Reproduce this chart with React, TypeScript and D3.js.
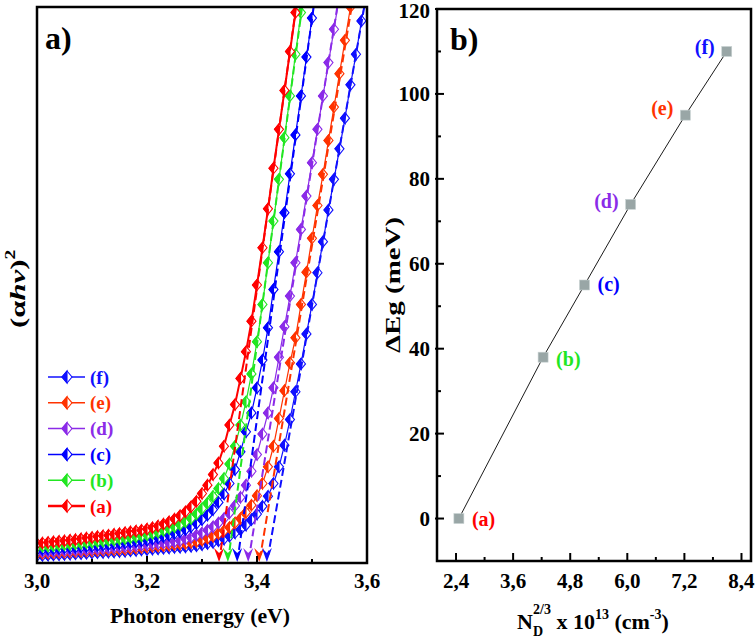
import React from 'react';
import * as d3 from 'd3';

// ---------- Panel a) data ----------
const energies = [
  3.00, 3.01, 3.02, 3.03, 3.04, 3.05, 3.06, 3.07, 3.08, 3.09,
  3.10, 3.11, 3.12, 3.13, 3.14, 3.15, 3.16, 3.17, 3.18, 3.19,
  3.20, 3.21, 3.22, 3.23, 3.24, 3.25, 3.26, 3.27, 3.28, 3.29,
  3.30, 3.31, 3.32, 3.33, 3.34, 3.35, 3.36, 3.37, 3.38, 3.39,
  3.40, 3.41, 3.42, 3.43, 3.44, 3.45, 3.46, 3.47, 3.48, 3.49,
  3.50, 3.51, 3.52, 3.53, 3.54, 3.55, 3.56, 3.57, 3.58, 3.59,
  3.60,
];

const seriesA = [3.5, 3.6, 3.7, 3.8, 3.9, 4.0, 4.1, 4.2, 4.35, 4.5, 4.6, 4.75, 4.9, 5.0, 5.15, 5.3, 5.45, 5.6, 5.75, 5.9, 6.1, 6.35, 6.65, 7.0, 7.4, 7.9, 8.5, 9.2, 10.1, 11.1, 12.5, 14.0, 15.9, 18.0, 21.0, 24.8, 28.5, 33.2, 38.0, 43.5, 50.0, 56.7, 63.7, 71.0, 78.0, 85.0, 92.0, 99.0, 106.0];
const seriesB = [2.9, 3.0, 3.05, 3.1, 3.2, 3.3, 3.35, 3.45, 3.55, 3.65, 3.75, 3.85, 3.95, 4.05, 4.15, 4.3, 4.4, 4.55, 4.7, 4.85, 5.05, 5.3, 5.55, 5.85, 6.2, 6.5, 6.9, 7.4, 8.0, 8.8, 9.8, 10.8, 12.0, 13.4, 15.2, 17.8, 21.0, 24.8, 29.0, 34.0, 39.8, 46.5, 54.0, 61.5, 69.0, 76.5, 84.0, 91.5, 99.0, 106.0];
const seriesC = [2.4, 2.45, 2.5, 2.55, 2.6, 2.7, 2.75, 2.8, 2.9, 2.95, 3.0, 3.1, 3.2, 3.3, 3.4, 3.5, 3.6, 3.7, 3.85, 3.95, 4.1, 4.3, 4.5, 4.75, 5.0, 5.3, 5.6, 6.0, 6.5, 7.1, 7.8, 8.6, 9.6, 10.9, 12.4, 14.3, 16.8, 20.0, 23.6, 27.0, 31.5, 36.5, 42.3, 49.2, 56.0, 63.0, 70.0, 77.0, 84.0, 91.0, 98.0, 105.0];
const seriesD = [2.0, 2.05, 2.1, 2.15, 2.2, 2.25, 2.3, 2.35, 2.4, 2.45, 2.5, 2.55, 2.6, 2.7, 2.75, 2.85, 2.9, 3.0, 3.1, 3.2, 3.3, 3.4, 3.5, 3.6, 3.65, 3.8, 4.0, 4.3, 4.6, 5.0, 5.4, 5.9, 6.5, 7.2, 8.0, 9.0, 10.3, 11.8, 14.0, 16.5, 19.5, 23.2, 27.0, 31.5, 37.0, 42.5, 48.0, 54.0, 60.0, 66.0, 72.0, 78.0, 84.0, 90.0, 96.0, 102.0];
const seriesE = [1.7, 1.75, 1.8, 1.85, 1.9, 1.95, 2.0, 2.05, 2.1, 2.15, 2.2, 2.25, 2.3, 2.35, 2.4, 2.45, 2.5, 2.6, 2.7, 2.8, 2.9, 3.0, 3.05, 3.1, 3.2, 3.3, 3.4, 3.5, 3.7, 3.85, 4.1, 4.45, 4.8, 5.3, 5.8, 6.4, 7.2, 8.0, 9.1, 10.4, 12.1, 14.3, 17.3, 21.0, 26.0, 31.0, 36.0, 40.5, 46.5, 52.3, 58.4, 64.3, 69.9, 76.0, 82.0, 88.0, 94.0, 100.0, 106.0];
const seriesF = [1.3, 1.35, 1.4, 1.45, 1.5, 1.55, 1.6, 1.65, 1.7, 1.75, 1.8, 1.85, 1.9, 1.95, 2.0, 2.05, 2.1, 2.2, 2.25, 2.35, 2.4, 2.5, 2.55, 2.65, 2.7, 2.8, 2.85, 2.9, 3.0, 3.1, 3.3, 3.5, 3.7, 4.0, 4.3, 4.8, 5.4, 6.0, 6.8, 7.8, 8.8, 10.2, 12.0, 14.3, 17.3, 21.2, 25.8, 30.8, 35.8, 41.2, 46.5, 52.2, 57.8, 63.5, 69.0, 74.5, 80.0, 86.0, 91.5, 97.5, 103.0];

const seriesNames = ['(a)', '(b)', '(c)', '(d)', '(e)', '(f)'];
const seriesValues = [seriesA, seriesB, seriesC, seriesD, seriesE, seriesF];
const seriesColors = ['#ff0000', '#22e622', '#0000ff', '#8b2be8', '#ff3300', '#1010ff'];
const seriesWidths = [2, 1.2, 1.2, 1.2, 1.2, 1.2];

// extrapolated band gap (arrow) and where the tangent leaves the top of the frame
const gapEnergies = [3.331, 3.347, 3.364, 3.384, 3.404, 3.418];
const tangentTopEnergies = [3.471, 3.482, 3.503, 3.546, 3.572, 3.595];

const xTicksA = [3.0, 3.2, 3.4, 3.6];
const xMinorA = [3.1, 3.3, 3.5];

// ---------- Panel b) data ----------
const densityX = [2.46, 4.23, 5.10, 6.07, 7.22, 8.09];
const deltaEg = [0, 38, 55, 74, 95, 110];
const pointLabels = ['(a)', '(b)', '(c)', '(d)', '(e)', '(f)'];
const pointLabelColors = ['#ff0000', '#22e622', '#0000ff', '#8b2be8', '#ff3300', '#1010ff'];
const xTicksB = [2.4, 3.6, 4.8, 6.0, 7.2, 8.4];
const xMinorB = [3.0, 4.2, 5.4, 6.6, 7.8];
const yTicksB = [0, 20, 40, 60, 80, 100, 120];
const yMinorB = [10, 30, 50, 70, 90, 110];

const FONT = 'Liberation Serif, DejaVu Serif, serif';
const comma = (v: number) => d3.format('.1f')(v).replace('.', ',');

// layout
const A = { left: 37, right: 367, top: 7, bottom: 563 };
const B = { left: 437, right: 751, top: 9, bottom: 561 };

function Diamond({ x, y, color, rx = 4.5, ry = 5.5 }: { x: number; y: number; color: string; rx?: number; ry?: number }) {
  return (
    <g transform={`translate(${x},${y})`}>
      <path d={`M0,${-ry} L${rx},0 L0,${ry} L${-rx},0 Z`} fill="#fff" stroke={color} strokeWidth={1.1} />
      <path d={`M0,${-ry} L0,${ry} L${-rx},0 Z`} fill={color} stroke={color} strokeWidth={1.1} />
    </g>
  );
}

export default function App() {
  const xA = d3.scaleLinear().domain([3.0, 3.6]).range([A.left, A.right]);
  const yA = d3.scaleLinear().domain([0, 100]).range([A.bottom, A.top]);
  const xB = d3.scaleLinear().domain([2.0, 8.6]).range([B.left, B.right]);
  const yB = d3.scaleLinear().domain([-10, 120]).range([B.bottom, B.top]);

  const lineA = d3
    .line<[number, number]>()
    .x((d) => xA(d[0]))
    .y((d) => yA(d[1]));

  const lineB = d3
    .line<[number, number]>()
    .x((d) => xB(d[0]))
    .y((d) => yB(d[1]));

  const drawOrder = [5, 4, 3, 2, 1, 0];
  const legendOrder = [5, 4, 3, 2, 1, 0];
  const legendY0 = 377;
  const legendDy = 25.8;

  const labelSide = ['right', 'right', 'right', 'left', 'left', 'left'];
  const labelDy = [0, 2, -1, -3, -7, -4];

  const txt = { fontFamily: FONT, fontWeight: 'bold' as const };

  return (
    <svg
      width={756}
      height={644}
      style={{ position: 'absolute', left: 0, top: 0, background: '#fff', ...txt }}
    >
      <defs>
        <clipPath id="clipA">
          <rect x={A.left} y={A.top} width={A.right - A.left} height={A.bottom - A.top} />
        </clipPath>
      </defs>

      {/* ================= Panel a ================= */}
      <g clipPath="url(#clipA)">
        {drawOrder.map((si) => {
          const pts: [number, number][] = seriesValues[si].map((v, i) => [energies[i], v]);
          return (
            <g key={si}>
              <path d={lineA(pts) || ''} fill="none" stroke={seriesColors[si]} strokeWidth={seriesWidths[si]} />
              {pts.map((p, i) => (
                <Diamond key={i} x={xA(p[0])} y={yA(p[1])} color={seriesColors[si]} />
              ))}
            </g>
          );
        })}
        {drawOrder.map((si) => {
          const p0: [number, number] = [tangentTopEnergies[si], 100];
          const p1: [number, number] = [gapEnergies[si], 0];
          const t = 0.985;
          const pEnd: [number, number] = [p0[0] + (p1[0] - p0[0]) * t, p0[1] + (p1[1] - p0[1]) * t];
          return (
            <path
              key={'t' + si}
              d={lineA([p0, pEnd]) || ''}
              fill="none"
              stroke={seriesColors[si]}
              strokeWidth={2}
              strokeDasharray="8,4"
            />
          );
        })}
      </g>
      {gapEnergies.map((g, si) => (
        <path
          key={'arr' + si}
          transform={`translate(${xA(g)},${A.bottom - 1})`}
          d="M0,0 L-5,-14 L0,-9 L5,-14 Z"
          fill={seriesColors[si]}
        />
      ))}

      {/* ticks a */}
      {xTicksA.map((t) => (
        <line key={'xa' + t} x1={xA(t)} x2={xA(t)} y1={A.bottom} y2={A.bottom - 7} stroke="#000" strokeWidth={2} />
      ))}
      {xMinorA.map((t) => (
        <line key={'xam' + t} x1={xA(t)} x2={xA(t)} y1={A.bottom} y2={A.bottom - 4} stroke="#000" strokeWidth={2} />
      ))}
      <rect x={A.left} y={A.top} width={A.right - A.left} height={A.bottom - A.top} fill="none" stroke="#000" strokeWidth={2.5} />
      {xTicksA.map((t) => (
        <text key={'xal' + t} x={xA(t)} y={588} textAnchor="middle" fontSize={21} style={txt}>
          {comma(t)}
        </text>
      ))}
      <text
        x={110}
        y={623}
        fontSize={22}
        textLength={180}
        lengthAdjust="spacingAndGlyphs"
        style={txt}
      >
        Photon energy (eV)
      </text>
      <text
        transform={`translate(25,328) rotate(-90) scale(1.4,1)`}
        fontSize={22}
        style={txt}
      >
        <tspan>(α</tspan>
        <tspan fontStyle="italic">hν</tspan>
        <tspan>)</tspan>
        <tspan fontSize={14} dy={-10}>2</tspan>
      </text>
      <text x={45} y={49} fontSize={32} style={txt}>
        a)
      </text>

      {/* legend */}
      {legendOrder.map((si, k) => {
        const y = legendY0 + k * legendDy;
        return (
          <g key={'lg' + si}>
            <line x1={48} x2={85} y1={y} y2={y} stroke={seriesColors[si]} strokeWidth={seriesWidths[si] + 0.3} />
            <Diamond x={67} y={y} color={seriesColors[si]} rx={5} ry={6} />
            <text x={90} y={y} dy="0.35em" fontSize={19} fill={seriesColors[si]} style={txt}>
              {seriesNames[si]}
            </text>
          </g>
        );
      })}

      {/* ================= Panel b ================= */}
      <path
        d={lineB(densityX.map((x, i) => [x, deltaEg[i]] as [number, number])) || ''}
        fill="none"
        stroke="#000"
        strokeWidth={0.9}
      />
      {densityX.map((x, i) => (
        <rect
          key={'sq' + i}
          x={xB(x) - 5}
          y={yB(deltaEg[i]) - 5}
          width={10}
          height={10}
          fill="#99a6a6"
          stroke="#c9d2d2"
          strokeWidth={0.6}
        />
      ))}
      {densityX.map((x, i) => {
        const right = labelSide[i] === 'right';
        return (
          <text
            key={'pl' + i}
            x={xB(x) + (right ? 13 : -12)}
            y={yB(deltaEg[i]) + labelDy[i]}
            dy="0.35em"
            textAnchor={right ? 'start' : 'end'}
            fontSize={20}
            fill={pointLabelColors[i]}
            style={txt}
          >
            {pointLabels[i]}
          </text>
        );
      })}

      {xTicksB.map((t) => (
        <line key={'xb' + t} x1={xB(t)} x2={xB(t)} y1={B.bottom} y2={B.bottom - 8} stroke="#000" strokeWidth={2} />
      ))}
      {xMinorB.map((t) => (
        <line key={'xbm' + t} x1={xB(t)} x2={xB(t)} y1={B.bottom} y2={B.bottom - 4} stroke="#000" strokeWidth={2} />
      ))}
      {yTicksB.map((t) => (
        <line key={'yb' + t} x1={B.left - 2} x2={B.left + 7} y1={yB(t)} y2={yB(t)} stroke="#000" strokeWidth={2} />
      ))}
      {yMinorB.map((t) => (
        <line key={'ybm' + t} x1={B.left} x2={B.left + 4} y1={yB(t)} y2={yB(t)} stroke="#000" strokeWidth={2} />
      ))}
      <rect x={B.left} y={B.top} width={B.right - B.left} height={B.bottom - B.top} fill="none" stroke="#000" strokeWidth={2.5} />
      {xTicksB.map((t) => (
        <text key={'xbl' + t} x={xB(t)} y={588} textAnchor="middle" fontSize={21} style={txt}>
          {comma(t)}
        </text>
      ))}
      {yTicksB.map((t) => (
        <text key={'ybl' + t} x={430} y={yB(t) + (t === 120 ? 2 : 0)} dy="0.35em" textAnchor="end" fontSize={21} style={txt}>
          {t}
        </text>
      ))}
      <text
        transform={`translate(400,353) rotate(-90)`}
        fontSize={21}
        textLength={136}
        lengthAdjust="spacingAndGlyphs"
        style={txt}
      >
        ΔEg (meV)
      </text>
      <text x={517} y={629} fontSize={22} style={txt}>
        <tspan>N</tspan>
        <tspan fontSize={14} dy={7}>D</tspan>
        <tspan fontSize={14} dx={-10} dy={-22}>2/3</tspan>
        <tspan fontSize={22} dy={15}> x 10</tspan>
        <tspan fontSize={14} dy={-10}>13</tspan>
        <tspan fontSize={22} dy={10}> (cm</tspan>
        <tspan fontSize={14} dy={-10}>-3</tspan>
        <tspan fontSize={22} dy={10}>)</tspan>
      </text>
      <text x={450} y={50} fontSize={32} style={txt}>
        b)
      </text>
    </svg>
  );
}
